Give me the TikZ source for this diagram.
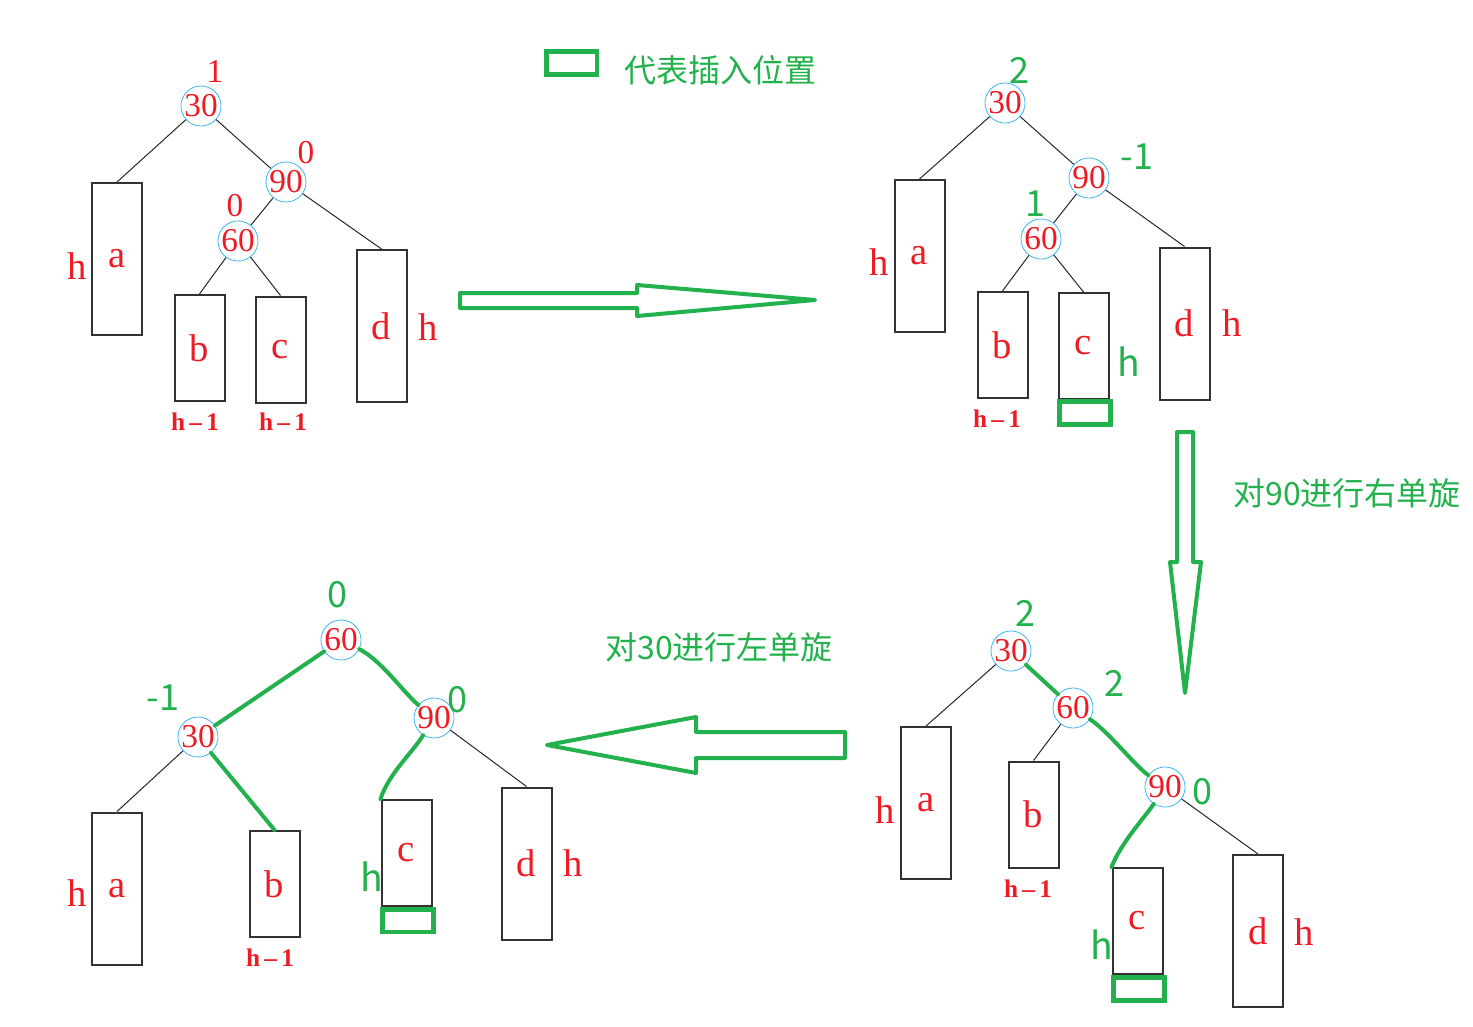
\documentclass[tikz,border=0pt]{standalone}
\usepackage{fontspec}
\setmainfont{Liberation Serif}
\newfontfamily\cjk{Noto Sans CJK SC}

\definecolor{paintred}{RGB}{237,28,36}
\definecolor{paintgreen}{RGB}{34,177,76}
\definecolor{ringblue}{RGB}{60,180,240}
\definecolor{boxgray}{RGB}{50,50,50}

\tikzset{every picture/.style={line width=0.75pt}}
\tikzset{
  keyring/.style={circle,draw=ringblue,line width=0.6pt,inner sep=0pt,minimum size=28.5pt,text=paintred,font=\fontsize{25}{25}\selectfont},
  subtree/.style={draw=boxgray,line width=1.5pt,minimum width=37.5pt,inner sep=0pt,text=paintred,font=\fontsize{29}{29}\selectfont},
  tallbox/.style={subtree,minimum height=114pt},
  shortbox/.style={subtree,minimum height=79.5pt},
  insmark/.style={draw=paintgreen,line width=3.5pt,minimum width=38pt,minimum height=17pt,inner sep=0pt},
  bfred/.style={text=paintred,inner sep=0.75pt,font=\fontsize{25}{25}\selectfont},
  bfgreen/.style={text=paintgreen,inner sep=0.75pt,font=\cjk\fontsize{27}{27}\selectfont},
  hred/.style={text=paintred,inner sep=0.75pt,font=\fontsize{29}{29}\selectfont},
  hgreen/.style={text=paintgreen,inner sep=0.75pt,font=\cjk\fontsize{28}{28}\selectfont},
  hsub/.style={text=paintred,inner sep=0.75pt,font=\bfseries\fontsize{19}{19}\selectfont},
  caption/.style={text=paintgreen,inner sep=0.75pt,font=\cjk\fontsize{24}{24}\selectfont},
  branch/.style={draw=black!85,line width=0.75pt},
  handline/.style={draw=paintgreen,line width=3pt,line cap=round,line join=round},
  fatarrow/.style={draw=paintgreen,line width=3pt,line join=round}
}

\begin{document}
\begin{tikzpicture}[x=0.75pt,y=0.75pt,yscale=-1,xscale=1]
\path[use as bounding box] (0,0) rectangle (1473,1027);

%% ---------- tree before insertion (top left)
%Shape: Circle
\node [keyring] (k30A) at (201,106) {30};
\node [keyring] (k90A) at (286,182) {90};
\node [keyring] (k60A) at (238,241) {60};
%Shape: Rectangle
\node [tallbox] (aA) at (117,259) {a};
\node [shortbox] (bA) at (199.5,348) {b};
\node [shortbox] (cA) at (280.5,349.5) {c};
\node [tallbox] (dA) at (381.5,326) {d};
%Straight Lines
\draw [branch] (k30A) -- (aA.north);
\draw [branch] (k30A) -- (k90A);
\draw [branch] (k90A) -- (k60A);
\draw [branch] (k60A) -- (bA.north);
\draw [branch] (k60A) -- (cA.north);
\draw [branch] (k90A) -- (dA.north);
% Text Node
\node [bfred] (bf30A) at (215,71) {1};
\node [bfred] (bf90A) at (306,153) {0};
\node [bfred] (bf60A) at (235,206) {0};
\node [hred] (hA1) at (77,266) {h};
\node [hred] (hA2) at (428,327) {h};
\node [hsub] (subA1) at (195,422) {h\,--\,1};
\node [hsub] (subA2) at (283,422) {h\,--\,1};

%% ---------- legend
\node [insmark] (legend) at (571.5,63) {};
\node [caption] (capIns) at (720,70) {代表插入位置};

%Shape: Arrow right
\draw [fatarrow] (460,293) -- (637,293) -- (637,285) -- (815,300) -- (637,316) -- (637,308) -- (460,308) -- cycle;

%% ---------- after insertion (top right)
%Shape: Circle
\node [keyring] (k30B) at (1005,103) {30};
\node [keyring] (k90B) at (1089,178) {90};
\node [keyring] (k60B) at (1041,239) {60};
%Shape: Rectangle
\node [tallbox] (aB) at (919.5,256) {a};
\node [shortbox] (bB) at (1002.5,345) {b};
\node [shortbox] (cB) at (1083.5,346) {c};
\node [tallbox] (dB) at (1184.5,323.5) {d};
\node [insmark] (insB) at (1085,413) {};
%Straight Lines
\draw [branch] (k30B) -- (aB.north);
\draw [branch] (k30B) -- (k90B);
\draw [branch] (k90B) -- (k60B);
\draw [branch] (k60B) -- (bB.north);
\draw [branch] (k60B) -- (cB.north);
\draw [branch] (k90B) -- (dB.north);
% Text Node
\node [bfgreen] (bf30B) at (1019,70) {2};
\node [bfgreen] (bf90B) at (1137,157) {-1};
\node [bfgreen] (bf60B) at (1035,204) {1};
\node [hred] (hB1) at (879,262) {h};
\node [hred] (hB2) at (1232,323) {h};
\node [hgreen] (hB3) at (1129,362) {h};
\node [hsub] (subB1) at (997,419) {h\,--\,1};

%Shape: Arrow down
\draw [fatarrow] (1177,432) -- (1193,432) -- (1193,562) -- (1201,562) -- (1185,693) -- (1170,562) -- (1177,562) -- cycle;
\node [caption] (capRight) at (1347,493) {对90进行右单旋};

%% ---------- after right rotation at 90 (bottom right)
%Shape: Circle
\node [keyring] (k30C) at (1011,651) {30};
\node [keyring] (k60C) at (1073,708) {60};
\node [keyring] (k90C) at (1165,787) {90};
%Shape: Rectangle
\node [tallbox] (aC) at (926,803) {a};
\node [shortbox] (bC) at (1033.5,814.5) {b};
\node [shortbox] (cC) at (1137.5,921) {c};
\node [tallbox] (dC) at (1258,931) {d};
\node [insmark] (insC) at (1139,989) {};
%Straight Lines
\draw [branch] (k30C) -- (aC.north);
\draw [branch] (k60C) -- (bC.north);
\draw [branch] (k90C) -- (dC.north);
%Curve Lines
\draw [handline] (k30C) -- (k60C);
\draw [handline] (k60C) .. controls +(36,24) and +(-31,-22) .. (k90C);
\draw [handline] (k90C) .. controls +(-20,30) and +(10,-25) .. (cC.north west);
% Text Node
\node [bfgreen] (bf30C) at (1025,613) {2};
\node [bfgreen] (bf60C) at (1114,683) {2};
\node [bfgreen] (bf90C) at (1202,792) {0};
\node [hred] (hC1) at (885,810) {h};
\node [hred] (hC2) at (1304,932) {h};
\node [hgreen] (hC3) at (1102,945) {h};
\node [hsub] (subC1) at (1028,889) {h\,--\,1};

%Shape: Arrow left
\draw [fatarrow] (845,732) -- (696,732) -- (696,717) -- (547,745) -- (696,773) -- (696,758) -- (845,758) -- cycle;
\node [caption] (capLeft) at (719,647) {对30进行左单旋};

%% ---------- after left rotation at 30 (bottom left)
%Shape: Circle
\node [keyring] (k60D) at (341,640) {60};
\node [keyring] (k30D) at (198,737) {30};
\node [keyring] (k90D) at (434,718) {90};
%Shape: Rectangle
\node [tallbox] (aD) at (117,888.5) {a};
\node [shortbox] (bD) at (274.5,884) {b};
\node [shortbox] (cD) at (406.5,853) {c};
\node [tallbox] (dD) at (526.5,863.5) {d};
\node [insmark] (insD) at (408,920.5) {};
%Straight Lines
\draw [branch] (k30D) -- (aD.north);
\draw [branch] (k90D) -- (dD.north);
\draw [handline] (k60D) -- (k30D);
\draw [handline] (k30D) -- (bD.north);
%Curve Lines
\draw [handline] (k60D) .. controls +(40,20) and +(-30,-25) .. (k90D);
\draw [handline] (k90D) .. controls +(-22,35) and +(8,-25) .. (cD.north west);
% Text Node
\node [bfgreen] (bf60D) at (337,595) {0};
\node [bfgreen] (bf30D) at (163,698) {-1};
\node [bfgreen] (bf90D) at (457,700) {0};
\node [hred] (hD1) at (77,893) {h};
\node [hred] (hD2) at (573,863) {h};
\node [hgreen] (hD3) at (372,877) {h};
\node [hsub] (subD1) at (270,958) {h\,--\,1};

\end{tikzpicture}
\end{document}
